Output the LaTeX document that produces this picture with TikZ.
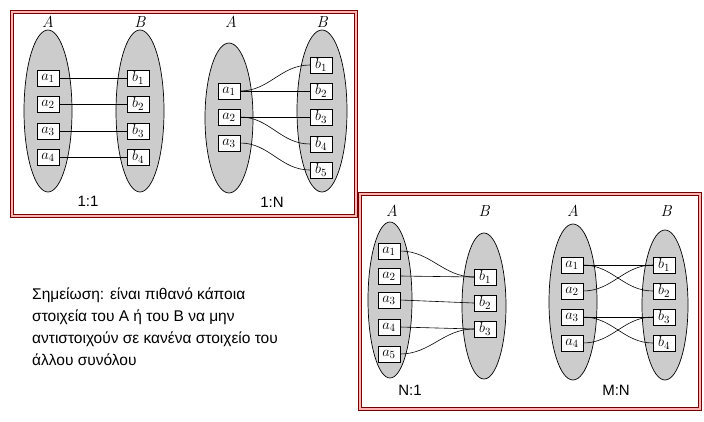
\documentclass[tikz,border=0pt]{standalone}
\usepackage{fontspec}
\setmainfont{Latin Modern Roman}
\newfontfamily\notefont{Liberation Sans}
\begin{document}
\begin{tikzpicture}[x=1pt,y=-1pt,
  setell/.style={draw=black,fill=black!20,line width=0.7pt},
  elem/.style={draw,fill=white,minimum width=22pt,minimum height=16pt,inner sep=0pt,font=\fontsize{15}{15}\selectfont},
  setlbl/.style={font=\fontsize{16}{16}\selectfont\itshape},
  caplbl/.style={font=\notefont\fontsize{15}{15}\selectfont},
  frame/.style={draw=red!45!black,double=red!30!white,double distance=1.5pt,line width=1.2pt},
  lk/.style={line width=0.6pt}]
\useasboundingbox (0,0) rectangle (704,421);
\draw[frame] (12,12) rectangle (356,216);
\draw[frame] (360,194) rectangle (700,409);
% 1:1
\draw[setell] (48,111) ellipse (24 and 81);
\draw[setell] (140,111) ellipse (24 and 81);
\node[setlbl] (lA1) at (48,22) {A};
\node[setlbl] (lB1) at (140,22) {B};
\foreach \i/\y in {1/78,2/104,3/131,4/157}{
  \node[elem] (p\i) at (48,\y) {$a_{\i}$};
  \node[elem] (q\i) at (138,\y) {$b_{\i}$};
  \draw[lk] (p\i.east) -- (q\i.west);}
\node[caplbl] (c1) at (88,201) {1:1};
% 1:N
\draw[setell] (229,118) ellipse (24 and 75);
\draw[setell] (322,111) ellipse (25 and 81);
\node[setlbl] (lA2) at (231,22) {A};
\node[setlbl] (lB2) at (322,22) {B};
\foreach \i/\y in {1/91,2/117,3/143}{\node[elem] (r\i) at (229,\y) {$a_{\i}$};}
\foreach \i/\y in {1/65,2/91,3/117,4/144,5/170}{\node[elem] (s\i) at (321,\y) {$b_{\i}$};}
\draw[lk] (r1.east) to[out=0,in=180] (s1.west);
\draw[lk] (r1.east) -- (s2.west);
\draw[lk] (r2.east) -- (s3.west);
\draw[lk] (r2.east) to[out=0,in=180] (s4.west);
\draw[lk] (r3.east) to[out=0,in=180] (s5.west);
\node[caplbl] (c2) at (272,202) {1:N};
% N:1
\draw[setell] (390,300) ellipse (22 and 78);
\draw[setell] (484,306) ellipse (22 and 73);
\node[setlbl] (lA3) at (392,211) {A};
\node[setlbl] (lB3) at (484,211) {B};
\foreach \i/\y in {1/251,2/276,3/300,4/327,5/354}{\node[elem] (t\i) at (389,\y) {$a_{\i}$};}
\foreach \i/\y in {1/277,2/303,3/329}{\node[elem] (u\i) at (485,\y) {$b_{\i}$};}
\draw[lk] (t1.east) to[out=0,in=180] (u1.west);
\draw[lk] (t2.east) -- (u1.west);
\draw[lk] (t3.east) -- (u2.west);
\draw[lk] (t4.east) -- (u3.west);
\draw[lk] (t5.east) to[out=0,in=180] (u3.west);
\node[caplbl] (c3) at (410,390) {N:1};
% M:N
\draw[setell] (573,302) ellipse (24 and 78);
\draw[setell] (665,305) ellipse (23 and 75);
\node[setlbl] (lA4) at (573,211) {A};
\node[setlbl] (lB4) at (666,211) {B};
\foreach \i/\y in {1/265,2/291,3/317,4/343}{
  \node[elem] (v\i) at (572,\y) {$a_{\i}$};
  \node[elem] (w\i) at (664,\y) {$b_{\i}$};}
\draw[lk] (v1.east) -- (w1.west);
\draw[lk] (v1.east) to[out=0,in=180] (w2.west);
\draw[lk] (v2.east) to[out=0,in=180] (w1.west);
\draw[lk] (v3.east) -- (w3.west);
\draw[lk] (v3.east) to[out=0,in=180] (w4.west);
\draw[lk] (v4.east) to[out=0,in=180] (w3.west);
\node[caplbl] (c4) at (616,390) {M:N};
% note
\node[anchor=north west,align=left,inner sep=0pt,font=\notefont\fontsize{15.5}{22}\selectfont] (note) at (32,288)
 {Σημείωση: είναι πιθανό κάποια\\στοιχεία του Α ή του Β να μην\\αντιστοιχούν σε κανένα στοιχείο του\\άλλου συνόλου};
\end{tikzpicture}
\end{document}
